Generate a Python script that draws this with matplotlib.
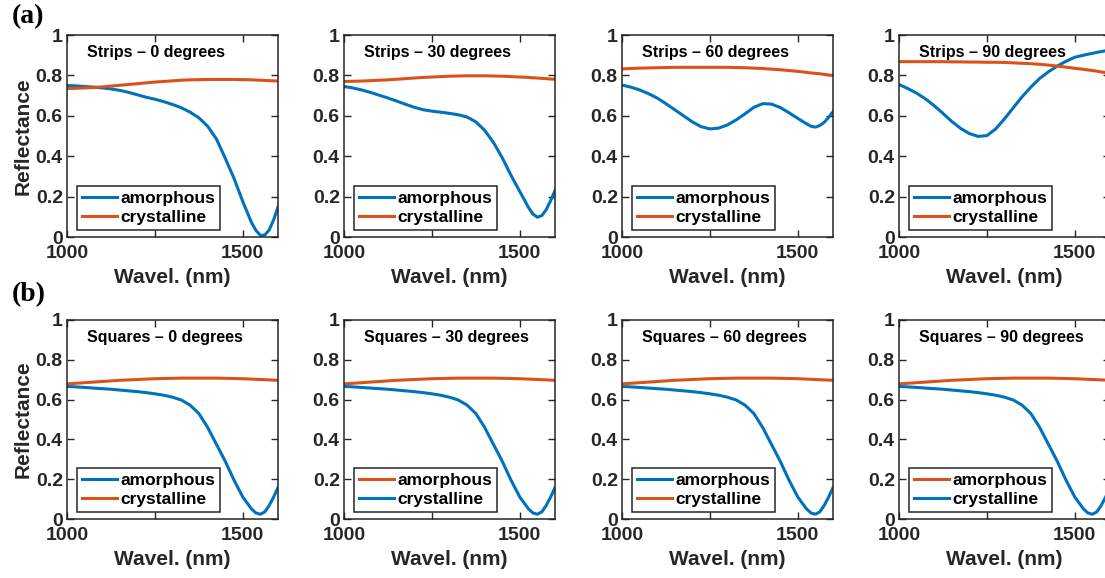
import matplotlib
matplotlib.use('Agg')
import matplotlib.pyplot as plt

# wavelength samples (nm); finer near the dips
wl = [1000, 1025, 1050, 1075, 1100, 1125, 1150, 1175, 1200, 1225, 1250, 1275, 1300, 1325,
      1350, 1375, 1400, 1425, 1450, 1475, 1500, 1525, 1537.5, 1550, 1562.5, 1575, 1587.5, 1600]

strips0_amor = [0.750, 0.748, 0.745, 0.742, 0.738, 0.733, 0.726, 0.716, 0.704, 0.692, 0.682, 0.670, 0.656, 0.640,
                0.618, 0.590, 0.548, 0.485, 0.390, 0.290, 0.175, 0.070, 0.032, 0.008, 0.010, 0.035, 0.085, 0.148]
strips0_crys = [0.735, 0.736, 0.738, 0.740, 0.743, 0.747, 0.751, 0.755, 0.759, 0.763, 0.767, 0.770, 0.773, 0.776,
                0.778, 0.779, 0.780, 0.780, 0.780, 0.780, 0.779, 0.778, 0.777, 0.776, 0.775, 0.774, 0.773, 0.772]
strips30_amor = [0.745, 0.738, 0.728, 0.716, 0.702, 0.688, 0.673, 0.657, 0.642, 0.630, 0.623, 0.618, 0.612, 0.605,
                 0.594, 0.570, 0.528, 0.468, 0.392, 0.305, 0.225, 0.145, 0.113, 0.098, 0.106, 0.135, 0.180, 0.230]
strips30_crys = [0.770, 0.771, 0.772, 0.774, 0.776, 0.778, 0.781, 0.784, 0.787, 0.790, 0.792, 0.794, 0.796, 0.797,
                 0.798, 0.798, 0.798, 0.797, 0.796, 0.794, 0.792, 0.790, 0.788, 0.787, 0.785, 0.784, 0.782, 0.781]
strips60_amor = [0.752, 0.742, 0.728, 0.710, 0.688, 0.660, 0.630, 0.600, 0.570, 0.546, 0.535, 0.539, 0.555, 0.580,
                 0.610, 0.642, 0.660, 0.658, 0.641, 0.615, 0.587, 0.560, 0.548, 0.544, 0.552, 0.568, 0.592, 0.620]
strips60_crys = [0.832, 0.834, 0.836, 0.837, 0.838, 0.839, 0.840, 0.840, 0.840, 0.840, 0.840, 0.840, 0.840, 0.839,
                 0.838, 0.836, 0.834, 0.831, 0.828, 0.824, 0.820, 0.815, 0.812, 0.810, 0.808, 0.805, 0.802, 0.800]
strips90_amor = [0.755, 0.735, 0.712, 0.684, 0.650, 0.612, 0.572, 0.538, 0.512, 0.498, 0.502, 0.535, 0.585, 0.640,
                 0.694, 0.742, 0.785, 0.818, 0.846, 0.870, 0.890, 0.900, 0.905, 0.909, 0.914, 0.918, 0.922, 0.925]
strips90_crys = [0.868, 0.868, 0.868, 0.868, 0.868, 0.868, 0.867, 0.867, 0.866, 0.866, 0.865, 0.865, 0.864, 0.862,
                 0.860, 0.858, 0.855, 0.851, 0.846, 0.841, 0.835, 0.830, 0.827, 0.824, 0.821, 0.817, 0.814, 0.811]
squares_amor = [0.666, 0.664, 0.661, 0.658, 0.655, 0.652, 0.648, 0.644, 0.640, 0.635, 0.629, 0.622, 0.612, 0.598,
                0.572, 0.530, 0.460, 0.375, 0.290, 0.195, 0.110, 0.050, 0.030, 0.024, 0.036, 0.068, 0.110, 0.158]
squares_crys = [0.679, 0.682, 0.685, 0.688, 0.691, 0.694, 0.697, 0.699, 0.701, 0.703, 0.705, 0.706, 0.707, 0.708,
                0.708, 0.708, 0.708, 0.708, 0.707, 0.706, 0.705, 0.703, 0.702, 0.701, 0.700, 0.699, 0.698, 0.697]

titles_top = ['Strips \u2013 0 degrees', 'Strips \u2013 30 degrees', 'Strips \u2013 60 degrees', 'Strips \u2013 90 degrees']
titles_bot = ['Squares \u2013 0 degrees', 'Squares \u2013 30 degrees', 'Squares \u2013 60 degrees', 'Squares \u2013 90 degrees']
top_blue = [strips0_amor, strips30_amor, strips60_amor, strips90_amor]
top_red = [strips0_crys, strips30_crys, strips60_crys, strips90_crys]
# in the squares row, panels 2 and 4 label the red line "amorphous"
bot_red_first = [False, True, False, True]

xticks = [1000, 1250, 1500]
xticklabels = ['1000', '', '1500']
yticks = [0, 0.2, 0.4, 0.6, 0.8, 1]
yticklabels = ['0', '0.2', '0.4', '0.6', '0.8', '1']

BLUE = '#0072BD'
RED = '#D95319'
GRAY = '#262626'

plt.rcParams['font.family'] = ['Liberation Sans', 'DejaVu Sans']
plt.rcParams['font.weight'] = 'bold'

fig = plt.figure(figsize=(11.05, 5.78), dpi=100)
W, H = 1105.0, 578.0
lefts = [67, 344, 622, 899]
aw = 211
rows = [(35, 237), (320, 519)]


def style(ax, title, first_col):
    ax.set_xlim(1000, 1600)
    ax.set_ylim(0, 1)
    ax.set_xticks(xticks)
    ax.set_xticklabels(xticklabels)
    ax.set_yticks(yticks)
    ax.set_yticklabels(yticklabels)
    ax.tick_params(direction='in', length=5, width=1, colors=GRAY, labelsize=14,
                   top=True, right=True)
    ax.tick_params(axis='x', pad=6)
    ax.tick_params(axis='y', pad=3)
    for s in ax.spines.values():
        s.set_color(GRAY)
        s.set_linewidth(1.1)
    ax.set_xlabel('Wavel. (nm)', fontsize=15, fontweight='bold', color=GRAY, labelpad=4)
    if first_col:
        ax.set_ylabel('Reflectance', fontsize=15, fontweight='bold', color=GRAY, labelpad=2)
    ax.text(20 / aw, 1 - 18 / 202, title, transform=ax.transAxes, fontsize=11.5,
            fontweight='bold', color='black', va='center', ha='left')
    leg = ax.legend(loc='lower left', bbox_to_anchor=(10 / aw, 7 / 202), fontsize=12.5,
                    frameon=True, fancybox=False, edgecolor=GRAY, framealpha=1,
                    handlelength=2.0, handletextpad=0.2, borderpad=0.3,
                    labelspacing=0.2, borderaxespad=0)
    leg.get_frame().set_linewidth(1.1)
    for t in leg.get_texts():
        t.set_fontweight('bold')


for r, (ytop, ybot) in enumerate(rows):
    for c in range(4):
        ax = fig.add_axes([lefts[c] / W, 1 - ybot / H, aw / W, (ybot - ytop) / H])
        if r == 0:
            ax.plot(wl, top_blue[c], color=BLUE, lw=2.2, label='amorphous')
            ax.plot(wl, top_red[c], color=RED, lw=2.2, label='crystalline')
            style(ax, titles_top[c], c == 0)
        else:
            if bot_red_first[c]:
                ax.plot(wl, squares_crys, color=RED, lw=2.2, label='amorphous')
                ax.plot(wl, squares_amor, color=BLUE, lw=2.2, label='crystalline')
            else:
                ax.plot(wl, squares_amor, color=BLUE, lw=2.2, label='amorphous')
                ax.plot(wl, squares_crys, color=RED, lw=2.2, label='crystalline')
            style(ax, titles_bot[c], c == 0)

fig.text(12 / W, 1 - 17 / H, '(a)', family=['Liberation Serif', 'DejaVu Serif'],
         fontsize=20, fontweight='bold', va='center', ha='left')
fig.text(12 / W, 1 - 295 / H, '(b)', family=['Liberation Serif', 'DejaVu Serif'],
         fontsize=20, fontweight='bold', va='center', ha='left')

fig.savefig('out.png', dpi=100)
